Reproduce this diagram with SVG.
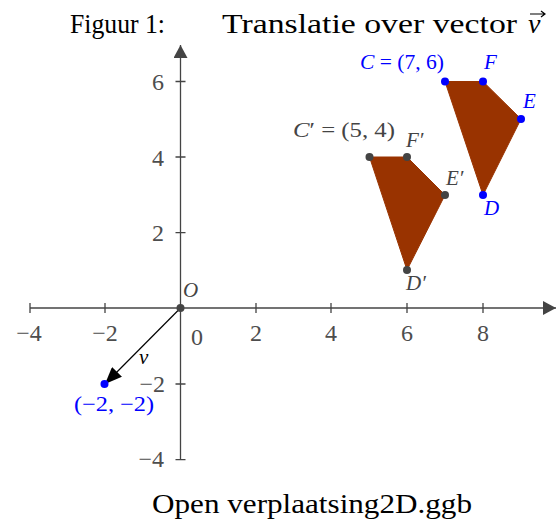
<svg xmlns="http://www.w3.org/2000/svg" width="559" height="519" viewBox="0 0 559 519">
<style>
.ttl{font-family:"Liberation Serif","Times New Roman",serif;font-size:28px;fill:#000}
.num{font-family:"Liberation Serif","Times New Roman",serif;font-size:24px;fill:#4d4d4d}
.lbl{font-family:"Liberation Serif","Times New Roman",serif;font-size:21px}
.it{font-style:italic}
.blue{fill:#0000ff}
.grey{fill:#444444}
.axis{stroke:#444444;stroke-width:1.3;fill:none}
.poly{fill:#993300;stroke:#993300;stroke-width:1}
</style>
<defs>
<marker id="axArrow" markerWidth="14" markerHeight="14" refX="13" refY="7" orient="auto" markerUnits="userSpaceOnUse">
<path d="M0,0 L13,7 L0,14 Z" fill="#444444"/>
</marker>
<marker id="vArrow" markerWidth="18" markerHeight="14" refX="17" refY="7" orient="auto" markerUnits="userSpaceOnUse">
<path d="M0,0 L17,7 L0,14 Z" fill="#000"/>
</marker>
</defs>
<g id="title">
<text class="ttl" x="70" y="33" textLength="95" lengthAdjust="spacingAndGlyphs">Figuur 1:</text>
<text class="ttl" x="222" y="33" textLength="295" lengthAdjust="spacingAndGlyphs">Translatie over vector</text>
<text class="ttl" x="528" y="33" font-style="italic">v</text>
<path d="M530,14 L545,14 M541,11 L545,14 L541,17" stroke="#000" stroke-width="1.2" fill="none"/>
</g>
<g id="axes">
<line class="axis" x1="30" y1="308" x2="556" y2="308" marker-end="url(#axArrow)"/>
<line class="axis" x1="180.5" y1="460" x2="180.5" y2="45" marker-end="url(#axArrow)"/>
<path class="axis" d="M30,303 V313 M105,303 V313 M256,303 V313 M331,303 V313 M407,303 V313 M483,303 V313"/>
<path class="axis" d="M175.5,81.5 H185.5 M175.5,157 H185.5 M175.5,232.7 H185.5 M175.5,384 H185.5 M175.5,459.6 H185.5"/>
<g class="num" text-anchor="middle">
<text x="29" y="341">−4</text>
<text x="105" y="341">−2</text>
<text x="197" y="345">0</text>
<text x="256" y="341">2</text>
<text x="331" y="341">4</text>
<text x="407" y="341">6</text>
<text x="483" y="341">8</text>
</g>
<g class="num" text-anchor="end">
<text x="164" y="90">6</text>
<text x="164" y="166">4</text>
<text x="164" y="241">2</text>
<text x="165" y="392">−2</text>
<text x="164" y="467">−4</text>
</g>
</g>
<g id="polyCFED"><polygon class="poly" points="445,81.5 483,81.5 521,119 483,195"/></g>
<g id="polyCpFpEpDp"><polygon class="poly" points="369.5,157 407,157 445,195 407,270"/></g>
<g id="connectors">
<line x1="180.5" y1="308" x2="105" y2="384" stroke="#000" stroke-width="1.2" marker-end="url(#vArrow)"/>
</g>
<g id="O"><circle cx="180.5" cy="308" r="4" fill="#444444"/><text class="lbl it grey" x="183" y="297">O</text></g>
<g id="V"><circle cx="104.5" cy="384" r="4" fill="#0000ff"/><text class="lbl blue" x="74" y="411" font-size="20" textLength="80" lengthAdjust="spacingAndGlyphs">(−2, −2)</text></g>
<g id="vlabel"><text class="lbl it" x="139" y="364" fill="#000">v</text></g>
<g id="C"><circle cx="445" cy="81.5" r="4" fill="#0000ff"/><text class="lbl blue" x="360" y="69" textLength="84" lengthAdjust="spacingAndGlyphs"><tspan class="it">C</tspan> = (7, 6)</text></g>
<g id="F"><circle cx="483" cy="81.5" r="4" fill="#0000ff"/><text class="lbl it blue" x="484" y="69">F</text></g>
<g id="E"><circle cx="521" cy="119" r="4" fill="#0000ff"/><text class="lbl it blue" x="523" y="108">E</text></g>
<g id="D"><circle cx="483" cy="195" r="4" fill="#0000ff"/><text class="lbl it blue" x="484" y="215">D</text></g>
<g id="Cp"><circle cx="369.5" cy="157" r="4" fill="#444444"/><text class="lbl grey" x="293" y="137" textLength="102" lengthAdjust="spacingAndGlyphs"><tspan class="it">C</tspan>′ = (5, 4)</text></g>
<g id="Fp"><circle cx="407" cy="157" r="4" fill="#444444"/><text class="lbl it grey" x="406" y="147">F′</text></g>
<g id="Ep"><circle cx="445" cy="195" r="4" fill="#444444"/><text class="lbl it grey" x="446" y="185">E′</text></g>
<g id="Dp"><circle cx="407" cy="270" r="4" fill="#444444"/><text class="lbl it grey" x="406" y="290">D′</text></g>
<g id="footer">
<text class="ttl" x="152" y="513" textLength="320" lengthAdjust="spacingAndGlyphs">Open verplaatsing2D.ggb</text>
</g>
</svg>
